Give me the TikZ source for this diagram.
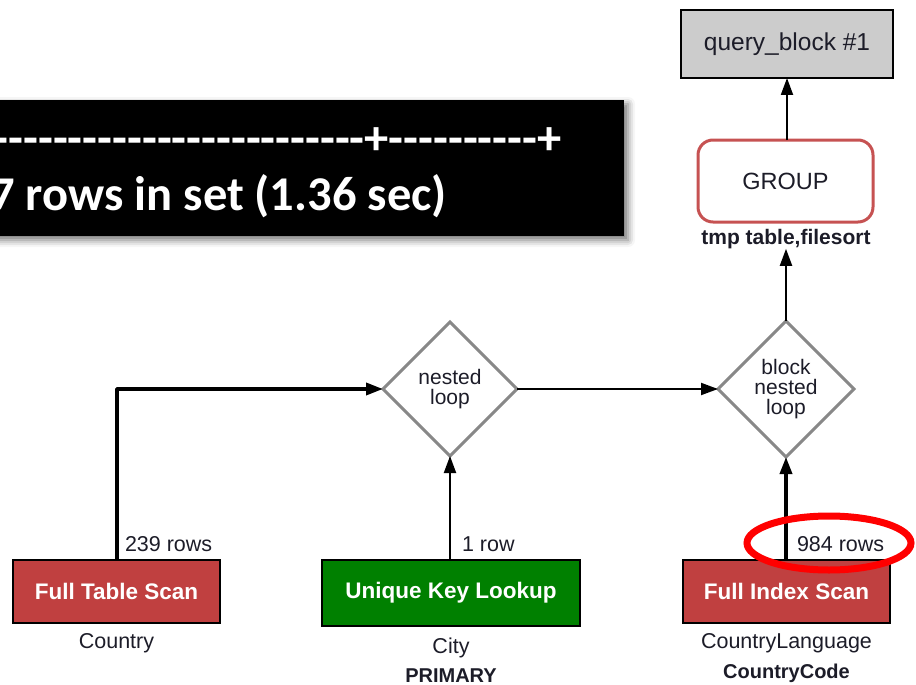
\documentclass[tikz,border=0pt]{standalone}
\usepackage{fontspec}
\setmainfont{Liberation Sans}
\newfontfamily\calibri{Carlito}
\usetikzlibrary{shapes.geometric,arrows.meta,shadows.blur}

\definecolor{scanred}{RGB}{192,64,64}
\definecolor{lookupgreen}{RGB}{0,128,0}
\definecolor{qbgray}{RGB}{204,204,204}
\definecolor{grpred}{RGB}{198,82,82}
\definecolor{dmgray}{RGB}{136,136,136}
\definecolor{inkc}{RGB}{28,28,40}

\begin{document}
\begin{tikzpicture}[x=1pt,y=-1pt,
  txt/.style={font=\fontsize{21.5}{20}\selectfont, text=inkc, inner sep=0pt, outer sep=0pt},
  btxt/.style={font=\bfseries\fontsize{20}{20}\selectfont, text=inkc, inner sep=0pt, outer sep=0pt},
  opbox/.style={draw=black, line width=2pt, inner sep=0pt, outer sep=0pt,
    font=\bfseries\fontsize{22.5}{22}\selectfont, text=white},
  loopdiamond/.style={shape=diamond, draw=dmgray, line width=3pt, inner sep=0pt, outer sep=0pt,
    align=center, font=\fontsize{21}{20}\selectfont, text=inkc},
  console/.style={anchor=base east, inner sep=0pt, text=white,
    font=\calibri\bfseries\fontsize{48.5}{48}\selectfont},
  flow/.style={draw=black, line width=2pt, -{Triangle[length=17pt,width=12pt]}},
  heavyflow/.style={flow, line width=3.5pt, line join=round}
]
\useasboundingbox (0,0) rectangle (916,685);

% console output panel
\fill[black, blur shadow={shadow xshift=4pt, shadow yshift=-4pt, shadow blur radius=7pt, shadow opacity=55}]
  (-30,100) rectangle (624,236);
\begin{scope}
  \clip (0,100) rectangle (624,236);
  \node[console] (sepline) at (562,154) {-----------------------------+----------+};
  \node[console] (rowcount) at (447,210) {7 rows in set (1.36 sec)};
\end{scope}

% plan nodes
\node[draw=black, line width=2pt, fill=qbgray, minimum width=212pt, minimum height=68pt,
  inner sep=0pt, outer sep=0pt, txt, font=\fontsize{24.5}{24}\selectfont] (qb) at (787,44) {query\_block \#1};
\node[draw=grpred, line width=3pt, rounded corners=15pt, fill=white, minimum width=175pt,
  minimum height=82pt, inner sep=0pt, outer sep=0pt, txt, font=\fontsize{23.5}{23}\selectfont] (grp) at (785.5,181) {GROUP};
\node[btxt, font=\bfseries\fontsize{21}{21}\selectfont] (tmp) at (786,239) {tmp table,filesort};

\node[loopdiamond, minimum width=134pt, minimum height=134pt] (nl) at (450,389) {nested\\loop};
\node[loopdiamond, minimum width=136pt, minimum height=136pt] (bnl) at (786,389) {block\\nested\\loop};

\node[opbox, fill=scanred, minimum width=207pt, minimum height=63pt] (fts) at (116.5,591.5) {Full Table Scan};
\node[opbox, fill=lookupgreen, minimum width=258pt, minimum height=66pt] (ukl) at (451,593) {Unique Key Lookup};
\node[opbox, fill=scanred, minimum width=207pt, minimum height=63pt] (fis) at (786.5,591.5) {Full Index Scan};

% row counts and table names
\node[txt, anchor=base west] (r239) at (125,551) {239 rows};
\node[txt, anchor=base west] (r1) at (462,551) {1 row};
\node[txt, anchor=base west] (r984) at (797,551) {984 rows};

\node[txt, anchor=base] (tcountry) at (116.5,648) {Country};
\node[txt, anchor=base] (tcity) at (451,653) {City};
\node[btxt, anchor=base] (kprimary) at (451,682) {PRIMARY};
\node[txt, anchor=base] (tcl) at (786.5,648) {CountryLanguage};
\node[btxt, anchor=base] (kcc) at (786.5,678) {CountryCode};

% connectors
\draw[heavyflow] (fts.north -| 117,0) |- (nl.west);
\draw[flow] (ukl.north -| nl.south) -- (nl.south);
\draw[flow] (nl.east) -- (bnl.west);
\draw[heavyflow] (fis.north -| bnl.south) -- (bnl.south);
\draw[flow] (bnl.north) -- (tmp.south);
\draw[flow] (grp.north -| qb.south) -- (qb.south);

% highlight
\draw[red, line width=7pt] (829,543) ellipse [x radius=82, y radius=27];
\end{tikzpicture}
\end{document}
